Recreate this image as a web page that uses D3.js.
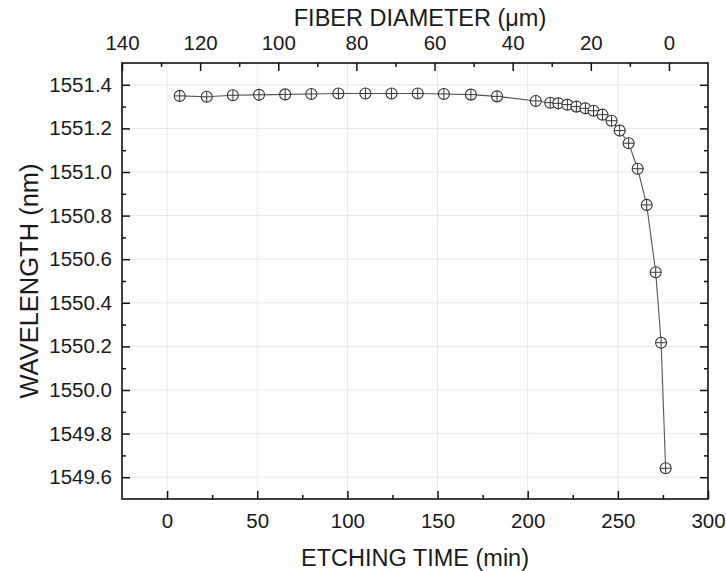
<!DOCTYPE html>
<html>
<head>
<meta charset="utf-8">
<script src="https://cdn.jsdelivr.net/npm/d3@7"></script>
<style>
  body { margin: 0; background: #fff; }
  svg text { font-family: "Liberation Sans", Arial, sans-serif; fill: #1a1a1a; }
</style>
</head>
<body>
<svg id="chart" width="726" height="571"></svg>
<script>
// etching time (min) and measured Bragg wavelength (nm)
const etchTime = [7, 22, 36.5, 51, 65.5, 80, 95, 110, 124.5, 139, 153.5, 168.5, 183,
  204.5, 212.5, 217, 222, 227, 232, 236.5, 241.5, 246.5, 251, 256, 261, 266, 271, 274, 276.5]
const wavelength = [1551.349, 1551.345, 1551.352, 1551.354, 1551.356, 1551.358, 1551.36, 1551.36,
  1551.36, 1551.36, 1551.358, 1551.355, 1551.347, 1551.326, 1551.318, 1551.315, 1551.309,
  1551.300, 1551.292, 1551.281, 1551.263, 1551.235, 1551.190, 1551.132, 1551.015, 1550.849,
  1550.54, 1550.217, 1549.641]

const timeTicks = [0, 50, 100, 150, 200, 250, 300]
const diamTicks = [140, 120, 100, 80, 60, 40, 20, 0]
const wlTicks = [1549.6, 1549.8, 1550.0, 1550.2, 1550.4, 1550.6, 1550.8, 1551.0, 1551.2, 1551.4]

const margin = { left: 122, right: 708, top: 63, bottom: 499 }

const svg = d3.select("#chart")

const x = d3.scaleLinear().domain([-25, 300]).range([margin.left, margin.right])
const xTop = d3.scaleLinear().domain([140, -10]).range([margin.left, margin.right])
const y = d3.scaleLinear().domain([1549.5, 1551.5]).range([margin.bottom, margin.top])

const plotH = margin.bottom - margin.top
const plotW = margin.right - margin.left

// ## grid ##
svg.append("g")
  .selectAll("line.vg")
  .data(timeTicks.filter(d => d < 300))
  .enter().append("line")
  .attr("x1", d => x(d)).attr("x2", d => x(d))
  .attr("y1", margin.top).attr("y2", margin.bottom)
  .attr("stroke", "#e8e8e8").attr("stroke-width", 1)

svg.append("g")
  .selectAll("line.hg")
  .data(wlTicks)
  .enter().append("line")
  .attr("x1", margin.left).attr("x2", margin.right)
  .attr("y1", d => y(d)).attr("y2", d => y(d))
  .attr("stroke", "#e8e8e8").attr("stroke-width", 1)

// ## axes (ticks pointing inward) ##
const styleAxis = (g) => {
  g.select(".domain").remove()
  g.selectAll(".tick line").attr("stroke", "#111").attr("stroke-width", 1.5)
  g.selectAll(".tick text").style("font-size", "20.5px")
}
const minor = (g) => {
  g.select(".domain").remove()
  g.selectAll(".tick line").attr("stroke", "#111").attr("stroke-width", 1.5)
  g.selectAll(".tick text").remove()
}

// bottom
svg.append("g").attr("transform", `translate(0,${margin.bottom})`)
  .call(d3.axisBottom(x).tickValues(d3.range(25, 300, 50)).tickSize(-4).tickFormat(""))
  .call(minor)
svg.append("g").attr("transform", `translate(0,${margin.bottom})`)
  .call(d3.axisBottom(x).tickValues(timeTicks).tickSize(-8).tickPadding(14).tickFormat(d3.format("d")))
  .call(styleAxis)

// top
svg.append("g").attr("transform", `translate(0,${margin.top})`)
  .call(d3.axisTop(xTop).tickValues(d3.range(130, -10, -20)).tickSize(-4).tickFormat(""))
  .call(minor)
svg.append("g").attr("transform", `translate(0,${margin.top})`)
  .call(d3.axisTop(xTop).tickValues(diamTicks).tickSize(-8).tickPadding(13).tickFormat(d3.format("d")))
  .call(styleAxis)

// left
svg.append("g").attr("transform", `translate(${margin.left},0)`)
  .call(d3.axisLeft(y).tickValues(d3.range(1549.7, 1551.5, 0.2)).tickSize(-4).tickFormat(""))
  .call(minor)
svg.append("g").attr("transform", `translate(${margin.left},0)`)
  .call(d3.axisLeft(y).tickValues(wlTicks).tickSize(-8).tickPadding(10).tickFormat(d3.format(".1f")))
  .call(styleAxis)

// right
svg.append("g").attr("transform", `translate(${margin.right},0)`)
  .call(d3.axisRight(y).tickValues(d3.range(1549.7, 1551.5, 0.2)).tickSize(-4).tickFormat(""))
  .call(minor)
svg.append("g").attr("transform", `translate(${margin.right},0)`)
  .call(d3.axisRight(y).tickValues(wlTicks).tickSize(-8).tickFormat(""))
  .call(minor)

// frame
svg.append("rect")
  .attr("x", margin.left).attr("y", margin.top)
  .attr("width", plotW).attr("height", plotH)
  .attr("fill", "none").attr("stroke", "#111").attr("stroke-width", 1.6)

// ## titles ##
svg.append("text")
  .attr("x", (margin.left + margin.right) / 2).attr("y", 566)
  .attr("text-anchor", "middle").style("font-size", "23.5px")
  .text("ETCHING TIME (min)")

svg.append("text")
  .attr("x", 420).attr("y", 26)
  .attr("text-anchor", "middle").style("font-size", "23.5px")
  .text("FIBER DIAMETER (\u03bcm)")

svg.append("text")
  .attr("transform", `translate(38,${(margin.top + margin.bottom) / 2}) rotate(-90)`)
  .attr("text-anchor", "middle").style("font-size", "25.5px")
  .text("WAVELENGTH (nm)")

// ## data ##
const points = etchTime.map((t, i) => ({ t, w: wavelength[i] }))

const line = d3.line().x(d => x(d.t)).y(d => y(d.w))
svg.append("path")
  .datum(points)
  .attr("d", line)
  .attr("fill", "none")
  .attr("stroke", "#555")
  .attr("stroke-width", 1.1)

const r = 5.5
const marks = svg.append("g").selectAll("g.pt")
  .data(points)
  .enter().append("g")
  .attr("transform", d => `translate(${x(d.t)},${y(d.w)})`)

marks.append("circle")
  .attr("r", r)
  .attr("fill", "#fff")
  .attr("stroke", "#333")
  .attr("stroke-width", 1.1)
marks.append("path")
  .attr("d", `M${-r},0H${r}M0,${-r}V${r}`)
  .attr("stroke", "#333")
  .attr("stroke-width", 1)
</script>
</body>
</html>
